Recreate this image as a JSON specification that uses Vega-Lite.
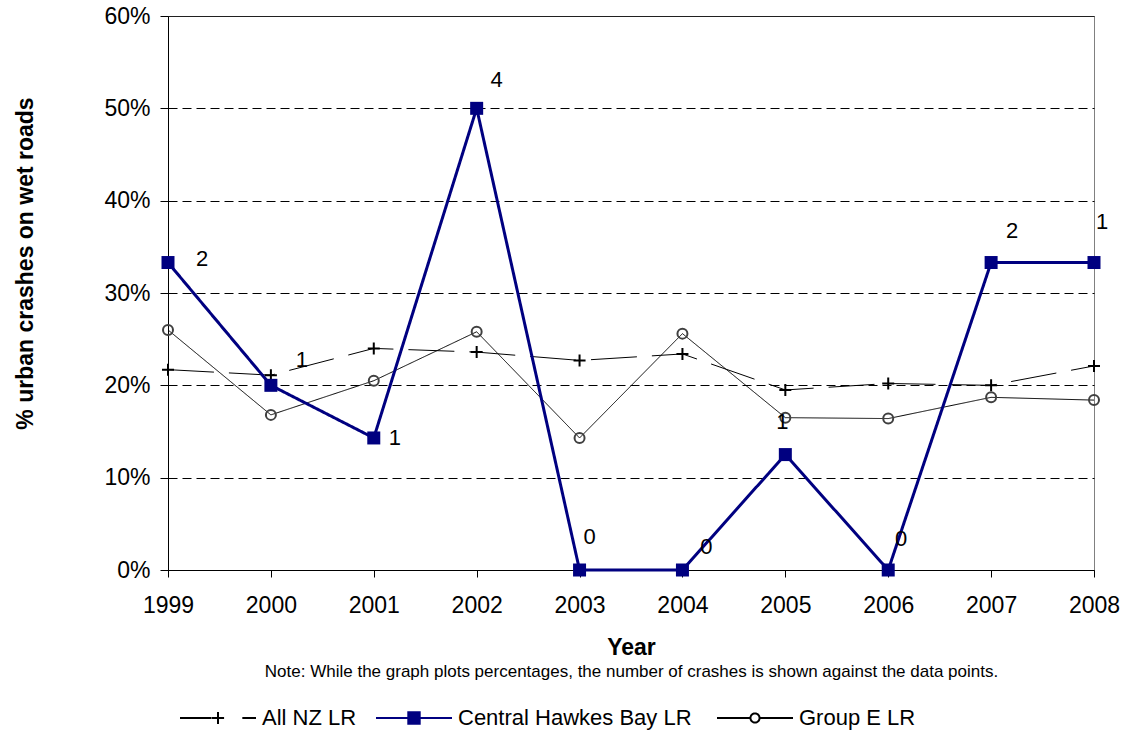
{
  "$schema": "https://vega.github.io/schema/vega-lite/v6.json",
  "width": 926,
  "height": 554,
  "autosize": {"type": "none"},
  "padding": {"left": 168, "top": 16, "right": 33, "bottom": 162},
  "background": "white",
  "config": {
    "font": "Liberation Sans",
    "view": {"stroke": "#808080", "strokeWidth": 1},
    "axis": {"labelColor": "#000", "titleColor": "#000"}
  },
  "data": {
    "values": [
      {"Year": 1999, "Series": "All NZ LR", "Pct": 0.217},
      {"Year": 2000, "Series": "All NZ LR", "Pct": 0.211},
      {"Year": 2001, "Series": "All NZ LR", "Pct": 0.240},
      {"Year": 2002, "Series": "All NZ LR", "Pct": 0.236},
      {"Year": 2003, "Series": "All NZ LR", "Pct": 0.227},
      {"Year": 2004, "Series": "All NZ LR", "Pct": 0.234},
      {"Year": 2005, "Series": "All NZ LR", "Pct": 0.195},
      {"Year": 2006, "Series": "All NZ LR", "Pct": 0.202},
      {"Year": 2007, "Series": "All NZ LR", "Pct": 0.200},
      {"Year": 2008, "Series": "All NZ LR", "Pct": 0.221},
      {"Year": 1999, "Series": "Group E LR", "Pct": 0.260},
      {"Year": 2000, "Series": "Group E LR", "Pct": 0.168},
      {"Year": 2001, "Series": "Group E LR", "Pct": 0.205},
      {"Year": 2002, "Series": "Group E LR", "Pct": 0.258},
      {"Year": 2003, "Series": "Group E LR", "Pct": 0.143},
      {"Year": 2004, "Series": "Group E LR", "Pct": 0.256},
      {"Year": 2005, "Series": "Group E LR", "Pct": 0.165},
      {"Year": 2006, "Series": "Group E LR", "Pct": 0.164},
      {"Year": 2007, "Series": "Group E LR", "Pct": 0.187},
      {"Year": 2008, "Series": "Group E LR", "Pct": 0.184},
      {"Year": 1999, "Series": "Central Hawkes Bay  LR", "Pct": 0.333, "Count": 2},
      {"Year": 2000, "Series": "Central Hawkes Bay  LR", "Pct": 0.200, "Count": 1},
      {"Year": 2001, "Series": "Central Hawkes Bay  LR", "Pct": 0.143, "Count": 1},
      {"Year": 2002, "Series": "Central Hawkes Bay  LR", "Pct": 0.500, "Count": 4},
      {"Year": 2003, "Series": "Central Hawkes Bay  LR", "Pct": 0.0, "Count": 0},
      {"Year": 2004, "Series": "Central Hawkes Bay  LR", "Pct": 0.0, "Count": 0},
      {"Year": 2005, "Series": "Central Hawkes Bay  LR", "Pct": 0.125, "Count": 1},
      {"Year": 2006, "Series": "Central Hawkes Bay  LR", "Pct": 0.0, "Count": 0},
      {"Year": 2007, "Series": "Central Hawkes Bay  LR", "Pct": 0.333, "Count": 2},
      {"Year": 2008, "Series": "Central Hawkes Bay  LR", "Pct": 0.333, "Count": 1}
    ]
  },
  "resolve": {"axis": {"x": "independent"}},
  "layer": [
    {
      "mark": {"type": "line", "clip": false},
      "encoding": {
        "x": {
          "field": "Year", "type": "quantitative",
          "scale": {"domain": [1999, 2008], "nice": false, "zero": false},
          "axis": {
            "orient": "bottom",
            "title": "Year", "values": [1999, 2000, 2001, 2002, 2003, 2004, 2005, 2006, 2007, 2008],
            "format": "d", "labelFontSize": 23, "tickSize": 7, "labelPadding": 17,
            "titleFontSize": 23, "titleFontWeight": "bold", "titlePadding": 19,
            "grid": false, "domainColor": "#000", "tickColor": "#000",
            "labelFlush": false, "labelOverlap": false
          }
        },
        "y": {
          "field": "Pct", "type": "quantitative",
          "scale": {"domain": [0, 0.6], "nice": false},
          "axis": {
            "title": "% urban crashes on wet roads", "titleFontSize": 23, "titleFontWeight": "bold",
            "titlePadding": 66, "titleY": 247,
            "values": [0, 0.1, 0.2, 0.3, 0.4, 0.5, 0.6], "format": ".0%",
            "labelFontSize": 23, "labelPadding": 10, "tickSize": 8,
            "tickColor": "#000", "domainColor": "#000",
            "gridColor": "#000", "gridOpacity": 1,
            "gridDash": {"condition": {"test": "datum.value >= 0.59", "value": [1, 0]}, "value": [9, 5]},
            "labelFlush": false, "labelOverlap": false
          }
        },
        "color": {
          "field": "Series", "type": "nominal",
          "scale": {"domain": ["All NZ LR", "Central Hawkes Bay  LR", "Group E LR"], "range": ["#000000", "#000080", "#000000"]},
          "legend": {
            "orient": "none", "direction": "horizontal", "legendX": 11, "legendY": 663,
            "title": null, "labelFontSize": 22, "labelColor": "#000", "labelLimit": 400,
            "symbolSize": 5776, "symbolStrokeWidth": 2, "labelOffset": 5, "columnPadding": 15,
            "encode": {
              "symbols": {
                "update": {
                  "shape": {"signal": "datum.value == 'All NZ LR' ? 'M-1,0H-0.17M0.64,0H1M-0.16,0H0.16M0,-0.16V0.16' : datum.value == 'Group E LR' ? 'M-1,0H-0.12M0.12,0H1M-0.12,0A0.12,0.12 0 1,0 0.12,0A0.12,0.12 0 1,0 -0.12,0' : 'M-1,0H1M-0.15,-0.15H0.15V0.15H-0.15Z'"},
                  "fill": {"signal": "datum.value == 'Central Hawkes Bay  LR' ? '#000080' : 'transparent'"},
                  "strokeDash": {"value": [1, 0]},
                  "opacity": {"value": 1}
                }
              }
            }
          }
        },
        "strokeDash": {"condition": {"test": "datum.Series == 'All NZ LR'", "value": [46, 15]}, "value": [1, 0]},
        "strokeWidth": {"condition": {"test": "datum.Series == 'Central Hawkes Bay  LR'", "value": 3}, "value": 1}
      }
    },
    {
      "transform": [{"filter": "datum.Series == 'All NZ LR'"}],
      "mark": {"type": "point", "shape": "M-1,0H1M0,-1V1", "size": 144, "strokeWidth": 2, "filled": false, "color": "#000000", "opacity": 1, "clip": false},
      "encoding": {
        "x": {"field": "Year", "type": "quantitative", "axis": null},
        "y": {"field": "Pct", "type": "quantitative"}
      }
    },
    {
      "transform": [{"filter": "datum.Series == 'Group E LR'"}],
      "mark": {"type": "point", "shape": "circle", "size": 100, "strokeWidth": 2, "filled": false, "color": "#404040", "opacity": 1, "clip": false},
      "encoding": {
        "x": {"field": "Year", "type": "quantitative", "axis": null},
        "y": {"field": "Pct", "type": "quantitative"}
      }
    },
    {
      "transform": [{"filter": "datum.Series == 'Central Hawkes Bay  LR'"}],
      "mark": {"type": "point", "shape": "square", "size": 169, "filled": true, "color": "#000080", "opacity": 1, "clip": false},
      "encoding": {
        "x": {
          "field": "Year", "type": "quantitative",
          "axis": {
            "orient": "bottom",
            "title": "Note: While the graph plots percentages, the number of crashes is shown against the data points.",
            "labels": false, "ticks": false, "domain": false, "grid": false,
            "titleFontSize": 17, "titleFontWeight": "normal", "titlePadding": 93
          }
        },
        "y": {"field": "Pct", "type": "quantitative"}
      }
    },
    {
      "transform": [{"filter": "datum.Series == 'Central Hawkes Bay  LR' && datum.Year == 1999"}],
      "mark": {"type": "text", "dx": 34, "dy": -4, "fontSize": 22, "color": "#000", "align": "center", "baseline": "middle"},
      "encoding": {"x": {"field": "Year", "type": "quantitative", "axis": null}, "y": {"field": "Pct", "type": "quantitative"}, "text": {"field": "Count"}}
    },
    {
      "transform": [{"filter": "datum.Series == 'Central Hawkes Bay  LR' && datum.Year == 2000"}],
      "mark": {"type": "text", "dx": 31, "dy": -25, "fontSize": 22, "color": "#000", "align": "center", "baseline": "middle"},
      "encoding": {"x": {"field": "Year", "type": "quantitative", "axis": null}, "y": {"field": "Pct", "type": "quantitative"}, "text": {"field": "Count"}}
    },
    {
      "transform": [{"filter": "datum.Series == 'Central Hawkes Bay  LR' && datum.Year == 2001"}],
      "mark": {"type": "text", "dx": 21, "dy": 0, "fontSize": 22, "color": "#000", "align": "center", "baseline": "middle"},
      "encoding": {"x": {"field": "Year", "type": "quantitative", "axis": null}, "y": {"field": "Pct", "type": "quantitative"}, "text": {"field": "Count"}}
    },
    {
      "transform": [{"filter": "datum.Series == 'Central Hawkes Bay  LR' && datum.Year == 2002"}],
      "mark": {"type": "text", "dx": 20, "dy": -28, "fontSize": 22, "color": "#000", "align": "center", "baseline": "middle"},
      "encoding": {"x": {"field": "Year", "type": "quantitative", "axis": null}, "y": {"field": "Pct", "type": "quantitative"}, "text": {"field": "Count"}}
    },
    {
      "transform": [{"filter": "datum.Series == 'Central Hawkes Bay  LR' && datum.Year == 2003"}],
      "mark": {"type": "text", "dx": 10, "dy": -33, "fontSize": 22, "color": "#000", "align": "center", "baseline": "middle"},
      "encoding": {"x": {"field": "Year", "type": "quantitative", "axis": null}, "y": {"field": "Pct", "type": "quantitative"}, "text": {"field": "Count"}}
    },
    {
      "transform": [{"filter": "datum.Series == 'Central Hawkes Bay  LR' && datum.Year == 2004"}],
      "mark": {"type": "text", "dx": 24, "dy": -23, "fontSize": 22, "color": "#000", "align": "center", "baseline": "middle"},
      "encoding": {"x": {"field": "Year", "type": "quantitative", "axis": null}, "y": {"field": "Pct", "type": "quantitative"}, "text": {"field": "Count"}}
    },
    {
      "transform": [{"filter": "datum.Series == 'Central Hawkes Bay  LR' && datum.Year == 2005"}],
      "mark": {"type": "text", "dx": -3, "dy": -33, "fontSize": 22, "color": "#000", "align": "center", "baseline": "middle"},
      "encoding": {"x": {"field": "Year", "type": "quantitative", "axis": null}, "y": {"field": "Pct", "type": "quantitative"}, "text": {"field": "Count"}}
    },
    {
      "transform": [{"filter": "datum.Series == 'Central Hawkes Bay  LR' && datum.Year == 2006"}],
      "mark": {"type": "text", "dx": 13, "dy": -31, "fontSize": 22, "color": "#000", "align": "center", "baseline": "middle"},
      "encoding": {"x": {"field": "Year", "type": "quantitative", "axis": null}, "y": {"field": "Pct", "type": "quantitative"}, "text": {"field": "Count"}}
    },
    {
      "transform": [{"filter": "datum.Series == 'Central Hawkes Bay  LR' && datum.Year == 2007"}],
      "mark": {"type": "text", "dx": 21, "dy": -32, "fontSize": 22, "color": "#000", "align": "center", "baseline": "middle"},
      "encoding": {"x": {"field": "Year", "type": "quantitative", "axis": null}, "y": {"field": "Pct", "type": "quantitative"}, "text": {"field": "Count"}}
    },
    {
      "transform": [{"filter": "datum.Series == 'Central Hawkes Bay  LR' && datum.Year == 2008"}],
      "mark": {"type": "text", "dx": 8, "dy": -41, "fontSize": 22, "color": "#000", "align": "center", "baseline": "middle"},
      "encoding": {"x": {"field": "Year", "type": "quantitative", "axis": null}, "y": {"field": "Pct", "type": "quantitative"}, "text": {"field": "Count"}}
    }
  ]
}
